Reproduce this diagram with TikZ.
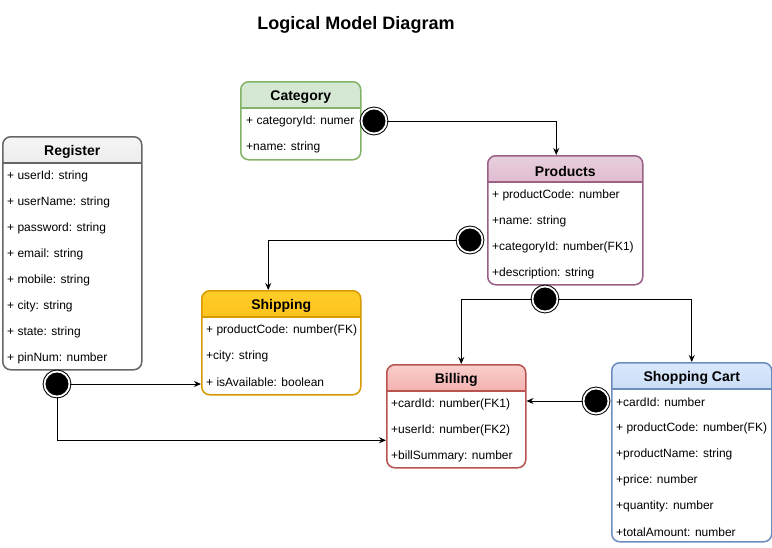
\documentclass[tikz,border=0pt]{standalone}
\usepackage{fontspec}
\setmainfont{Liberation Sans}
\usetikzlibrary{positioning, arrows.meta, calc}
\definecolor{catline}{HTML}{82B366}
\definecolor{catfill}{HTML}{D5E8D4}
\definecolor{regline}{HTML}{666666}
\definecolor{regtop}{HTML}{F5F5F5}
\definecolor{regbot}{HTML}{B3B3B3}
\definecolor{prodline}{HTML}{996185}
\definecolor{prodtop}{HTML}{E6D0DE}
\definecolor{prodbot}{HTML}{D5739D}
\definecolor{shipline}{HTML}{D79B00}
\definecolor{shiptop}{HTML}{FFCD28}
\definecolor{shipbot}{HTML}{FFA500}
\definecolor{billline}{HTML}{B85450}
\definecolor{billtop}{HTML}{F8CECC}
\definecolor{billbot}{HTML}{EA6B66}
\definecolor{cartline}{HTML}{6C8EBF}
\definecolor{carttop}{HTML}{DAE8FC}
\definecolor{cartbot}{HTML}{7EA6E0}
\tikzset{
x=1pt, y=-1pt, % drawio pixels, y runs down
entity/.style n args={3}{draw=#1, line width=1.5pt, rounded corners=8pt, fill=white,
  anchor=north west, inner sep=0pt,
  path picture={
    \shade[sharp corners, top color=#2, bottom color=#3, middle color=#2!45!#3]
      (path picture bounding box.north west) rectangle ([yshift=-26pt]path picture bounding box.north east);
    \draw[sharp corners, #1, line width=1.5pt]
      ([yshift=-26pt]path picture bounding box.north west) -- ([yshift=-26pt]path picture bounding box.north east);
  }}, % box with shaded header
head/.style={font=\fontsize{14}{16}\selectfont\bfseries, inner sep=0pt},
row/.style={font=\fontsize{12}{14}\selectfont, inner sep=0pt, anchor=west},
dot/.style={circle, fill=black, draw=black, double=white, double distance=1.8pt,
  line width=1pt, minimum size=25pt, inner sep=0pt}, % start marker
link/.style={-{Stealth[length=7pt, width=6pt]}, line width=0.9pt},
}
\begin{document}
\begin{tikzpicture}
  \useasboundingbox[fill=white] (0,0) rectangle (772,547);

  \node[font=\fontsize{18}{21}\selectfont\bfseries] (title) at (356,25) {Logical Model Diagram};

  % entities
  \node[entity={catline}{catfill}{catfill}, minimum width=120pt, minimum height=78pt] (Category) at (240,81) {};
  \node[entity={regline}{regtop}{regbot}, minimum width=139pt, minimum height=233pt] (Register) at (2,136) {};
  \node[entity={prodline}{prodtop}{prodbot}, minimum width=155pt, minimum height=129pt] (Products) at (487,155) {};
  \node[entity={shipline}{shiptop}{shipbot}, minimum width=159pt, minimum height=104pt] (Shipping) at (201,290) {};
  \node[entity={billline}{billtop}{billbot}, minimum width=139pt, minimum height=103pt] (Billing) at (386,364) {};
  \node[entity={cartline}{carttop}{cartbot}, minimum width=160pt, minimum height=179pt] (Cart) at (611,362) {};

  % titles
  \node[head] at ([yshift=-16pt]Category.north) {Category};
  \node[head] at ([yshift=-16pt]Register.north) {Register};
  \node[head] at ([yshift=-16pt]Products.north) {Products};
  \node[head] at ([yshift=-16pt]Shipping.north) {Shipping};
  \node[head] at ([yshift=-16pt]Billing.north) {Billing};
  \node[head] at ([yshift=-16pt]Cart.north) {Shopping Cart};

  % attributes
  \foreach \txt [count=\i] in {{+ categoryId: numer}, {+name: string}}
    \node[row] at ($(Category.north west)+(6,14.5+26*\i)$) {\txt};
  \foreach \txt [count=\i] in {{+ userId: string}, {+ userName: string}, {+ password: string},
      {+ email: string}, {+ mobile: string}, {+ city: string}, {+ state: string}, {+ pinNum: number}}
    \node[row] at ($(Register.north west)+(5,14.5+26*\i)$) {\txt};
  \foreach \txt [count=\i] in {{+ productCode: number}, {+name: string},
      {+categoryId: number(FK1)}, {+description: string}}
    \node[row] at ($(Products.north west)+(5,14.5+26*\i)$) {\txt};
  \foreach \txt [count=\i] in {{+ productCode: number(FK)}, {+city: string}, {+ isAvailable: boolean}}
    \node[row] at ($(Shipping.north west)+(5,14.5+26*\i)$) {\txt};
  \foreach \txt [count=\i] in {{+cardId: number(FK1)}, {+userId: number(FK2)}, {+billSummary: number}}
    \node[row] at ($(Billing.north west)+(5,14.5+26*\i)$) {\txt};
  \foreach \txt [count=\i] in {{+cardId: number}, {+ productCode: number(FK)}, {+productName: string},
      {+price: number}, {+quantity: number}, {+totalAmount: number}}
    \node[row] at ($(Cart.north west)+(5,14.5+26*\i)$) {\txt};

  % markers
  \node[dot] (catdot) at (374,121) {};
  \node[dot] (proddot) at (470,240) {};
  \node[dot] (prodlow) at (545,299) {};
  \node[dot] (cartdot) at (596,401) {};
  \node[dot] (regdot) at (57,384) {};

  % relations
  \draw[link] (catdot.east) -| ([xshift=-9pt]Products.north);
  \draw[link] (proddot.west) -| ([xshift=-13pt]Shipping.north);
  \draw[link] (prodlow.west) -| ([xshift=5pt]Billing.north);
  \draw[link] (prodlow.east) -| (Cart.north);
  \draw[link] (cartdot.west) -- (Billing.east |- cartdot);
  \draw[link] (regdot.east) -- (Shipping.west |- regdot);
  \draw[link] (regdot.south) |- ([yshift=-24pt]Billing.west);
\end{tikzpicture}
\end{document}
